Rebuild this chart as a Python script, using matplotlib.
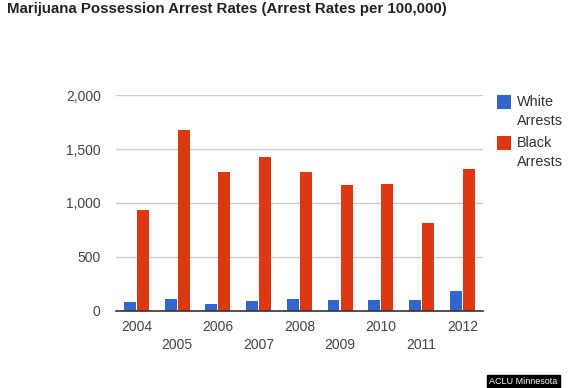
import matplotlib
matplotlib.use("Agg")
import matplotlib.pyplot as plt
from matplotlib.patches import Rectangle
import numpy as np

years = ["2004", "2005", "2006", "2007", "2008", "2009", "2010", "2011", "2012"]
white_arrests = [78, 109, 65, 90, 109, 99, 99, 99, 186]
black_arrests = [935, 1678, 1285, 1427, 1285, 1164, 1176, 817, 1318]
series_labels = ["White\nArrests", "Black\nArrests"]
series_colors = ["#3366CC", "#DC3912"]
yticks = [0, 500, 1000, 1500, 2000]
ytick_labels = ["0", "500", "1,000", "1,500", "2,000"]

plt.rcParams['font.family'] = ['Liberation Sans', 'DejaVu Sans']

W, H = 570, 388
fig = plt.figure(figsize=(W/100, H/100), dpi=100)
ax = fig.add_axes([116/W, 1 - 310.7/H, (482.7-116)/W, (310.7-95.3)/H])

x = np.arange(len(years))
bw = 0.29
ax.bar(x - bw/2 - 0.015, white_arrests, width=bw, color=series_colors[0], zorder=3)
ax.bar(x + bw/2 + 0.015, black_arrests, width=bw, color=series_colors[1], zorder=3)

ax.set_xlim(-0.5, len(years) - 0.5)
ax.set_ylim(0, 2000)
ax.set_yticks(yticks)
ax.set_yticklabels(ytick_labels)
ax.grid(axis='y', color="#cccccc", linewidth=1, zorder=0)
for s in ["top", "right", "left"]:
    ax.spines[s].set_visible(False)
ax.spines["bottom"].set_color("#333333")
ax.spines["bottom"].set_linewidth(1.2)
ax.spines["bottom"].set_zorder(4)
ax.tick_params(axis='y', length=0, labelsize=10, labelcolor="#444444", pad=11)
ax.tick_params(axis='x', length=0)
ax.set_xticks(x)
ax.set_xticklabels([])
for i, yr in enumerate(years):
    yy = 326.7 if i % 2 == 0 else 345
    fig.text((116 + (i + 0.5) * (366.7/9)) / W, 1 - yy/H, yr, ha="center", va="center",
             fontsize=10, color="#444444")

# legend (Google-chart style: square aligned with first text line)
leg_tops = [95, 136]
for lab, col, top in zip(series_labels, series_colors, leg_tops):
    fig.patches.append(Rectangle((497/W, 1 - (top + 14)/H), 14/W, 14/H,
                                 transform=fig.transFigure, facecolor=col, edgecolor="none"))
    fig.text(517/W, 1 - (top + 16.3)/H, lab, fontsize=10.4, color="#333333",
             ha="left", va="center", linespacing=1.45)

fig.text(7/W, 1 - 9/H, "Marijuana Possession Arrest Rates (Arrest Rates per 100,000)",
         fontsize=10.8, fontweight="bold", color="#222222", ha="left", va="center")

fig.text(523.5/W, 1 - 381.5/H, "ACLU Minnesota", fontsize=6.5, color="white",
         ha="center", va="center",
         bbox=dict(boxstyle="square,pad=0.25", facecolor="black", edgecolor="black"))

fig.savefig("out.png", dpi=100)
